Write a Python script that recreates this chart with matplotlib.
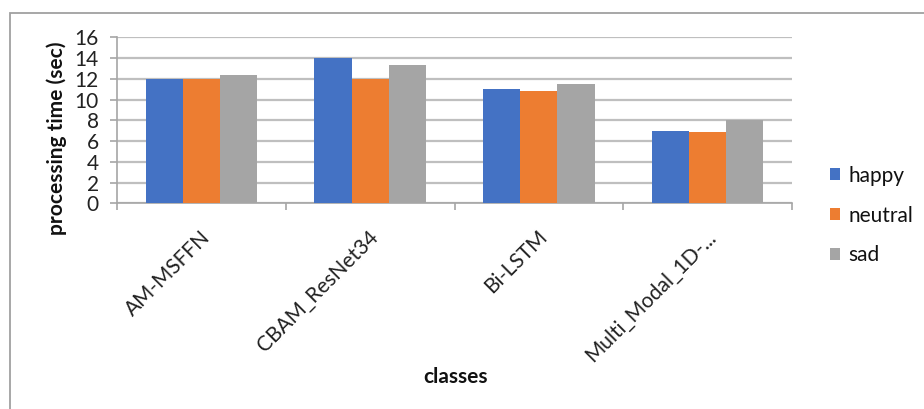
import numpy as np
import matplotlib
matplotlib.use("Agg")
import matplotlib.pyplot as plt
from matplotlib.patches import Rectangle

plt.rcParams['font.family'] = ['Lato', 'DejaVu Sans']

categories = ["AM-MSFFN", "CBAM_ResNet34", "Bi-LSTM", "Multi_Modal_1D-..."]
series_names = ["happy", "neutral", "sad"]
happy = [12.0, 14.0, 11.0, 7.0]
neutral = [12.0, 12.0, 10.8, 6.9]
sad = [12.4, 13.3, 11.5, 8.0]
colors = ["#4472C4", "#ED7D31", "#A5A5A5"]
yticks = [0, 2, 4, 6, 8, 10, 12, 14, 16]

W, H = 924, 409
fs = 15
fig = plt.figure(figsize=(W / 100, H / 100), dpi=100)

# chart frame
fig.patches.append(Rectangle((10 / W, -0.1), 1.2, 1 - 13 / H + 0.1,
                             transform=fig.transFigure, fill=False,
                             edgecolor="#A0A0A0", linewidth=1.3, zorder=0))

ax = fig.add_axes([117 / W, 1 - 203.3 / H, (792 - 117) / W, (203.3 - 37.3) / H])

x = np.arange(len(categories))
bw = 0.22
for i, (vals, name, c) in enumerate(zip([happy, neutral, sad], series_names, colors)):
    ax.bar(x + (i - 1) * bw, vals, bw, color=c, label=name, zorder=3)

ax.set_xlim(-0.5, len(categories) - 0.5)
ax.set_ylim(0, 16)
ax.set_yticks(yticks)
ax.yaxis.grid(True, color="#BFBFBF", linewidth=1.6, zorder=0)
ax.set_axisbelow(True)

for s in ["top", "right"]:
    ax.spines[s].set_visible(False)
for s in ["left", "bottom"]:
    ax.spines[s].set_color("#A6A6A6")
    ax.spines[s].set_linewidth(1.2)

ax.tick_params(axis="y", length=5, width=1.2, color="#A6A6A6", labelsize=fs,
               labelcolor="#222222", pad=8)
ax.set_yticklabels([str(v) for v in yticks])

# category boundary ticks
ax.set_xticks(np.arange(len(categories) + 1) - 0.5, minor=False)
ax.set_xticklabels([])
ax.tick_params(axis="x", length=5, width=1.2, color="#A6A6A6")
for xi, lab in zip(x, categories):
    ax.annotate(lab, xy=(xi - 0.01, 0), xycoords=("data", "axes fraction"),
                xytext=(0, -17), textcoords="offset points",
                rotation=45, ha="right", va="top", rotation_mode="anchor",
                fontsize=fs, color="#222222")

fig.text(57 / W, 1 - 138 / H, "processing time (sec)", fontsize=fs,
         fontweight="bold", color="#111111", rotation=90,
         ha="center", va="center")
fig.text(455 / W, 1 - 377 / H, "classes", fontsize=fs, fontweight="bold",
         color="#111111", ha="center", va="center")

leg = ax.legend(loc="upper left", bbox_to_anchor=(811 / W, 1 - 147 / H),
                bbox_transform=fig.transFigure, frameon=False, fontsize=fs,
                handlelength=0.5, handleheight=0.5, handletextpad=0.4,
                labelspacing=0.95)
for t in leg.get_texts():
    t.set_color("#111111")

fig.savefig("out.png", dpi=100)
